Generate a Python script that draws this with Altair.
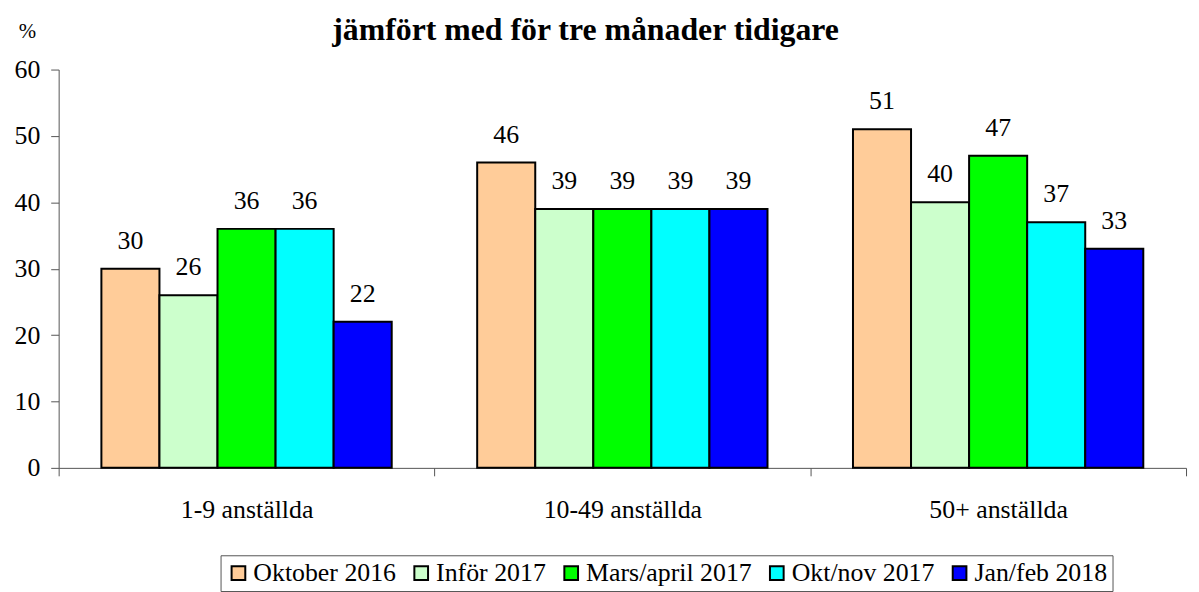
import altair as alt
import pandas as pd

categories = ["1-9 anställda", "10-49 anställda", "50+ anställda"]
series = ["Oktober 2016", "Inför 2017", "Mars/april 2017", "Okt/nov 2017", "Jan/feb 2018"]
colors = ["#FFCC99", "#CCFFCC", "#00FF00", "#00FFFF", "#0000FF"]
values = {
    "Oktober 2016":    [30, 46, 51],
    "Inför 2017":      [26, 39, 40],
    "Mars/april 2017": [36, 39, 47],
    "Okt/nov 2017":    [36, 39, 37],
    "Jan/feb 2018":    [22, 39, 33],
}

rows = []
for s in series:
    for c, v in zip(categories, values[s]):
        rows.append({"kategori": c, "serie": s, "varde": v})
df = pd.DataFrame(rows)

FONT = "Liberation Serif"

base = alt.Chart(df).encode(
    x=alt.X("kategori:N", sort=categories,
            scale=alt.Scale(paddingInner=0, paddingOuter=0),
            axis=alt.Axis(title=None, labelAngle=0, tickBand="extent", tickSize=8,
                          labelPadding=21, labelFontSize=26, labelFont=FONT,
                          labelColor="#000", domainColor="#555", tickColor="#555")),
    xOffset=alt.XOffset("serie:N", sort=series,
                        scale=alt.Scale(paddingInner=0, paddingOuter=0.736)),
    y=alt.Y("varde:Q",
            scale=alt.Scale(domain=[0, 60]),
            axis=alt.Axis(values=[0, 10, 20, 30, 40, 50, 60], grid=False, tickSize=8,
                          labelPadding=11, labelFontSize=26, labelFont=FONT, labelColor="#000",
                          domainColor="#555", tickColor="#555",
                          title="%", titleAngle=0, titleFontSize=21, titleFont=FONT,
                          titleFontWeight="normal", titleColor="#000",
                          titleX=-32, titleY=-38, titleAlign="center", titleBaseline="middle")),
)

bars = base.mark_bar(stroke="#000", strokeWidth=2).encode(
    color=alt.Color("serie:N", sort=series,
                    scale=alt.Scale(domain=series, range=colors),
                    legend=alt.Legend(title=None, orient="none", direction="horizontal",
                                      legendX=163, legendY=489,
                                      symbolType="square", symbolSize=190,
                                      symbolStrokeColor="#000", symbolStrokeWidth=2,
                                      labelFontSize=26, labelFont=FONT, labelColor="#000",
                                      labelLimit=500, labelOffset=2, columnPadding=12,
                                      strokeColor="#555", padding=5, fillColor="#fff")),
)

labels = base.mark_text(dy=-28, fontSize=26, font=FONT, color="#000").encode(
    text=alt.Text("varde:Q"),
)

chart = alt.layer(bars, labels).properties(
    width=1135, height=401,
    autosize=alt.AutoSizeParams(type="none"),
    padding={"left": 51, "top": 60, "right": 5, "bottom": 123},
    title=alt.TitleParams(text="jämfört med för tre månader tidigare", fontSize=32,
                          font=FONT, fontWeight="bold", color="#000",
                          anchor="middle", dx=-37, offset=-26),
).configure_view(stroke=None)

chart.save("out.html", embed_options={"renderer": "svg", "actions": False})
